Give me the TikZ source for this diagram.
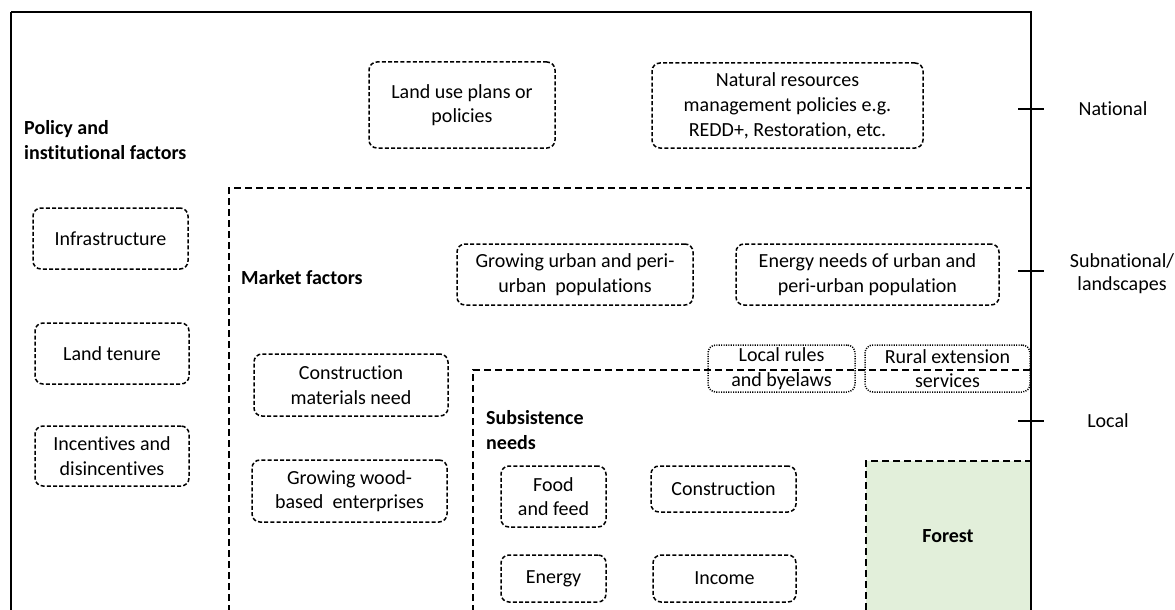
\documentclass[tikz,border=0pt]{standalone}
\usepackage{fontspec}
\setmainfont{Carlito}[Ligatures=NoCommon]
\begin{document}
\begin{tikzpicture}[x=1pt,y=-1pt,
  every node/.style={font=\fontsize{20}{24.4}\selectfont, align=center, inner sep=0pt},
  rbox/.style={draw, line width=1.5pt, dash pattern=on 4pt off 2.2pt, rounded corners=8pt},
  dbox/.style={draw, line width=1.5pt, dash pattern=on 1.1pt off 1.3pt, rounded corners=8pt},
  region/.style={draw, line width=1.4pt, dash pattern=on 7pt off 4pt},
  hdr/.style={font=\fontsize{20}{24.4}\selectfont\bfseries, anchor=west, align=left},
  scale label/.style={font=\fontsize{20}{23}\selectfont},
  tick/.style={line width=1.3pt}]
\useasboundingbox (0,0) rectangle (1175,610);
% outer frame
\coordinate (oBL) at (11,612);
\coordinate (oTL) at (11,12);
\coordinate (oTR) at (1031,12);
\coordinate (oBR) at (1031,612);
\draw[line width=1.3pt] (oTL) -- (oTR) -- (oBR);
\draw[line width=2pt] (oBL) -- (oTL);
% market region
\coordinate (mB) at (229,612);
\coordinate (mT) at (229,188);
\coordinate (mR) at (1031,188);
\draw[region] (mB) -- (mT) -- (mR);
% forest
\node[region, fill={rgb,255:red,226;green,239;blue,218}, minimum width=165pt, minimum height=155pt] (forest) at (948.5,538.5) {};
\node[font=\fontsize{20}{24.4}\selectfont\bfseries] (forestlbl) at (948,536) {Forest};
% subsistence region
\coordinate (sB) at (473,612);
\coordinate (sT) at (473,370);
\coordinate (sR) at (1031,370);
\coordinate (sRB) at (1031,612);
\draw[region] (sB) -- (sT) -- (sR) -- (sRB);
% headings
\node[hdr] (policy) at (24,140) {Policy and\\institutional factors};
\node[hdr] (market) at (241,278) {Market factors};
\node[hdr] (subsist) at (486,430) {Subsistence\\needs};
% national
\node[rbox, minimum width=186pt, minimum height=86pt] (landuse) at (462,105) {Land use plans or\\policies};
\node[rbox, minimum width=271pt, minimum height=85pt, font=\fontsize{20}{25}\selectfont] (natres) at (787.5,105.5) {Natural resources\\management policies e.g.\\REDD+, Restoration, etc.};
% policy column
\node[rbox, minimum width=155pt, minimum height=61pt] (infra) at (110.5,238.5) {Infrastructure};
\node[rbox, minimum width=154pt, minimum height=61pt] (tenure) at (112,353.5) {Land tenure};
\node[rbox, minimum width=154pt, minimum height=60pt] (incent) at (112,456) {Incentives and\\disincentives};
% market
\node[rbox, minimum width=236pt, minimum height=61pt] (urban) at (575,274.5) {Growing urban and peri-\\urban\ \ populations};
\node[rbox, minimum width=263pt, minimum height=61pt] (energyneeds) at (867.5,274.5) {Energy needs of urban and\\peri-urban population};
\node[rbox, minimum width=194pt, minimum height=62pt] (constrmat) at (351,385) {Construction\\materials need};
\node[rbox, minimum width=195pt, minimum height=62pt] (woodent) at (349.5,491) {Growing wood-\\based\ \ enterprises};
% local dotted
\node[dbox, minimum width=147pt, minimum height=47pt] (localrules) at (781.5,368.5) {Local rules\\and byelaws};
\node[dbox, minimum width=165pt, minimum height=47pt] (rural) at (947.5,368.5) {Rural extension\\services};
% subsistence
\node[rbox, minimum width=105pt, minimum height=61pt] (food) at (553.5,496.5) {Food\\and feed};
\node[rbox, minimum width=145pt, minimum height=46pt] (construction) at (723.5,489) {Construction};
\node[rbox, minimum width=105pt, minimum height=47pt] (energy) at (553.5,578.5) {Energy};
\node[rbox, minimum width=143pt, minimum height=47pt] (income) at (724.5,578.5) {Income};
% scale ticks
\coordinate (t1a) at (1018,109); \coordinate (t1b) at (1044,109);
\coordinate (t2a) at (1018,271); \coordinate (t2b) at (1044,271);
\coordinate (t3a) at (1018,421); \coordinate (t3b) at (1044,421);
\draw[tick] (t1a) -- (t1b);
\draw[tick] (t2a) -- (t2b);
\draw[tick] (t3a) -- (t3b);
\node[scale label] (national) at (1113,109) {National};
\node[scale label] (subnat) at (1122,273.5) {Subnational/\\landscapes};
\node[scale label] (local) at (1108,421) {Local};
\end{tikzpicture}
\end{document}
